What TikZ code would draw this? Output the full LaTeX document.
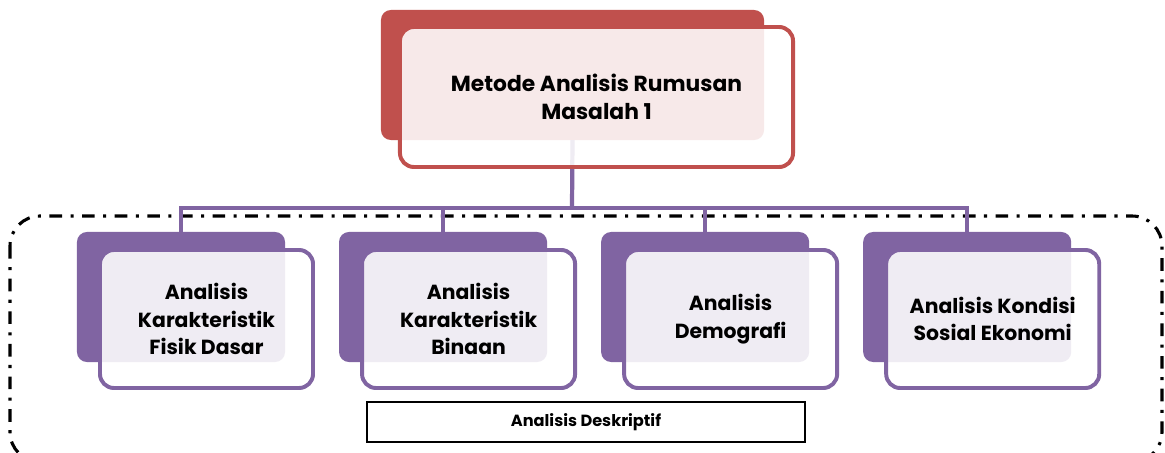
\documentclass[tikz,border=0pt]{standalone}
\usepackage{fontspec}
\setmainfont{Poppins}
\usetikzlibrary{positioning}
\definecolor{rmred}{RGB}{192,80,77}
\definecolor{rmpurple}{RGB}{128,100,162}

\begin{document}
\begin{tikzpicture}[x=0.025cm,y=-0.025cm,node distance=1.35cm,
    font=\bfseries\fontsize{14.5}{19.5}\selectfont,
    backbox/.style={fill=#1,rounded corners=0.25cm,minimum width=5.2cm,
      minimum height=3.25cm,inner sep=0pt,outer sep=0pt},
    frontbox/.style={draw=#1,line width=2.8pt,fill=white,fill opacity=0.88,
      text opacity=1,rounded corners=0.35cm,minimum width=5.325cm,
      minimum height=3.45cm,align=center,inner sep=0pt},
    link/.style={draw=rmpurple,line width=3pt},
    frame/.style={line width=2.2pt,rounded corners=0.75cm,
      dash pattern=on 9pt off 6pt on 2.2pt off 6pt}]
  \fill[white] (0,0) rectangle (1165,453);
  \useasboundingbox (0,0) rectangle (1165,453);
  % group of descriptive analyses
  \draw[frame] (10,216) rectangle (1162,462);
  % back plates
  \node[backbox=rmred,minimum width=9.575cm] (tbk) at (572.5,75) {};
  \node[backbox=rmpurple] (b1) at (181,297) {};
  \node[backbox=rmpurple,right=of b1] (b2) {};
  \node[backbox=rmpurple,right=of b2] (b3) {};
  \node[backbox=rmpurple,right=of b3] (b4) {};
  % connectors
  \coordinate (bar) at (572,208);
  \draw[link] (tbk.south) -- (bar);
  \draw[link] (b1.north) |- (bar) -| (b4.north);
  \draw[link] (b2.north |- bar) -- (b2.north);
  \draw[link] (b3.north |- bar) -- (b3.north);
  % front boxes
  \node[frontbox=rmred,minimum width=9.825cm,minimum height=3.5cm,
    font=\bfseries\fontsize{15.5}{19.5}\selectfont]
    (top) at ([shift={(24,22)}]tbk) {Metode Analisis Rumusan\\Masalah 1};
  \node[frontbox=rmpurple] (fisik) at ([shift={(25.5,22)}]b1)
    {Analisis\\Karakteristik\\Fisik Dasar};
  \node[frontbox=rmpurple] (binaan) at ([shift={(25.5,22)}]b2)
    {Analisis\\Karakteristik\\Binaan};
  \node[frontbox=rmpurple] (demo) at ([shift={(25.5,22)}]b3)
    {Analisis\\Demografi};
  \node[frontbox=rmpurple] (sosek) at ([shift={(25.5,22)}]b4)
    {Analisis Kondisi\\Sosial Ekonomi};
  % label
  \node[draw,line width=1.2pt,fill=white,minimum width=10.95cm,minimum height=1cm,
    font=\bfseries\fontsize{11.5}{13}\selectfont] (desk) at (586,422)
    {\raisebox{-3pt}{Analisis Deskriptif}};
\end{tikzpicture}
\end{document}
